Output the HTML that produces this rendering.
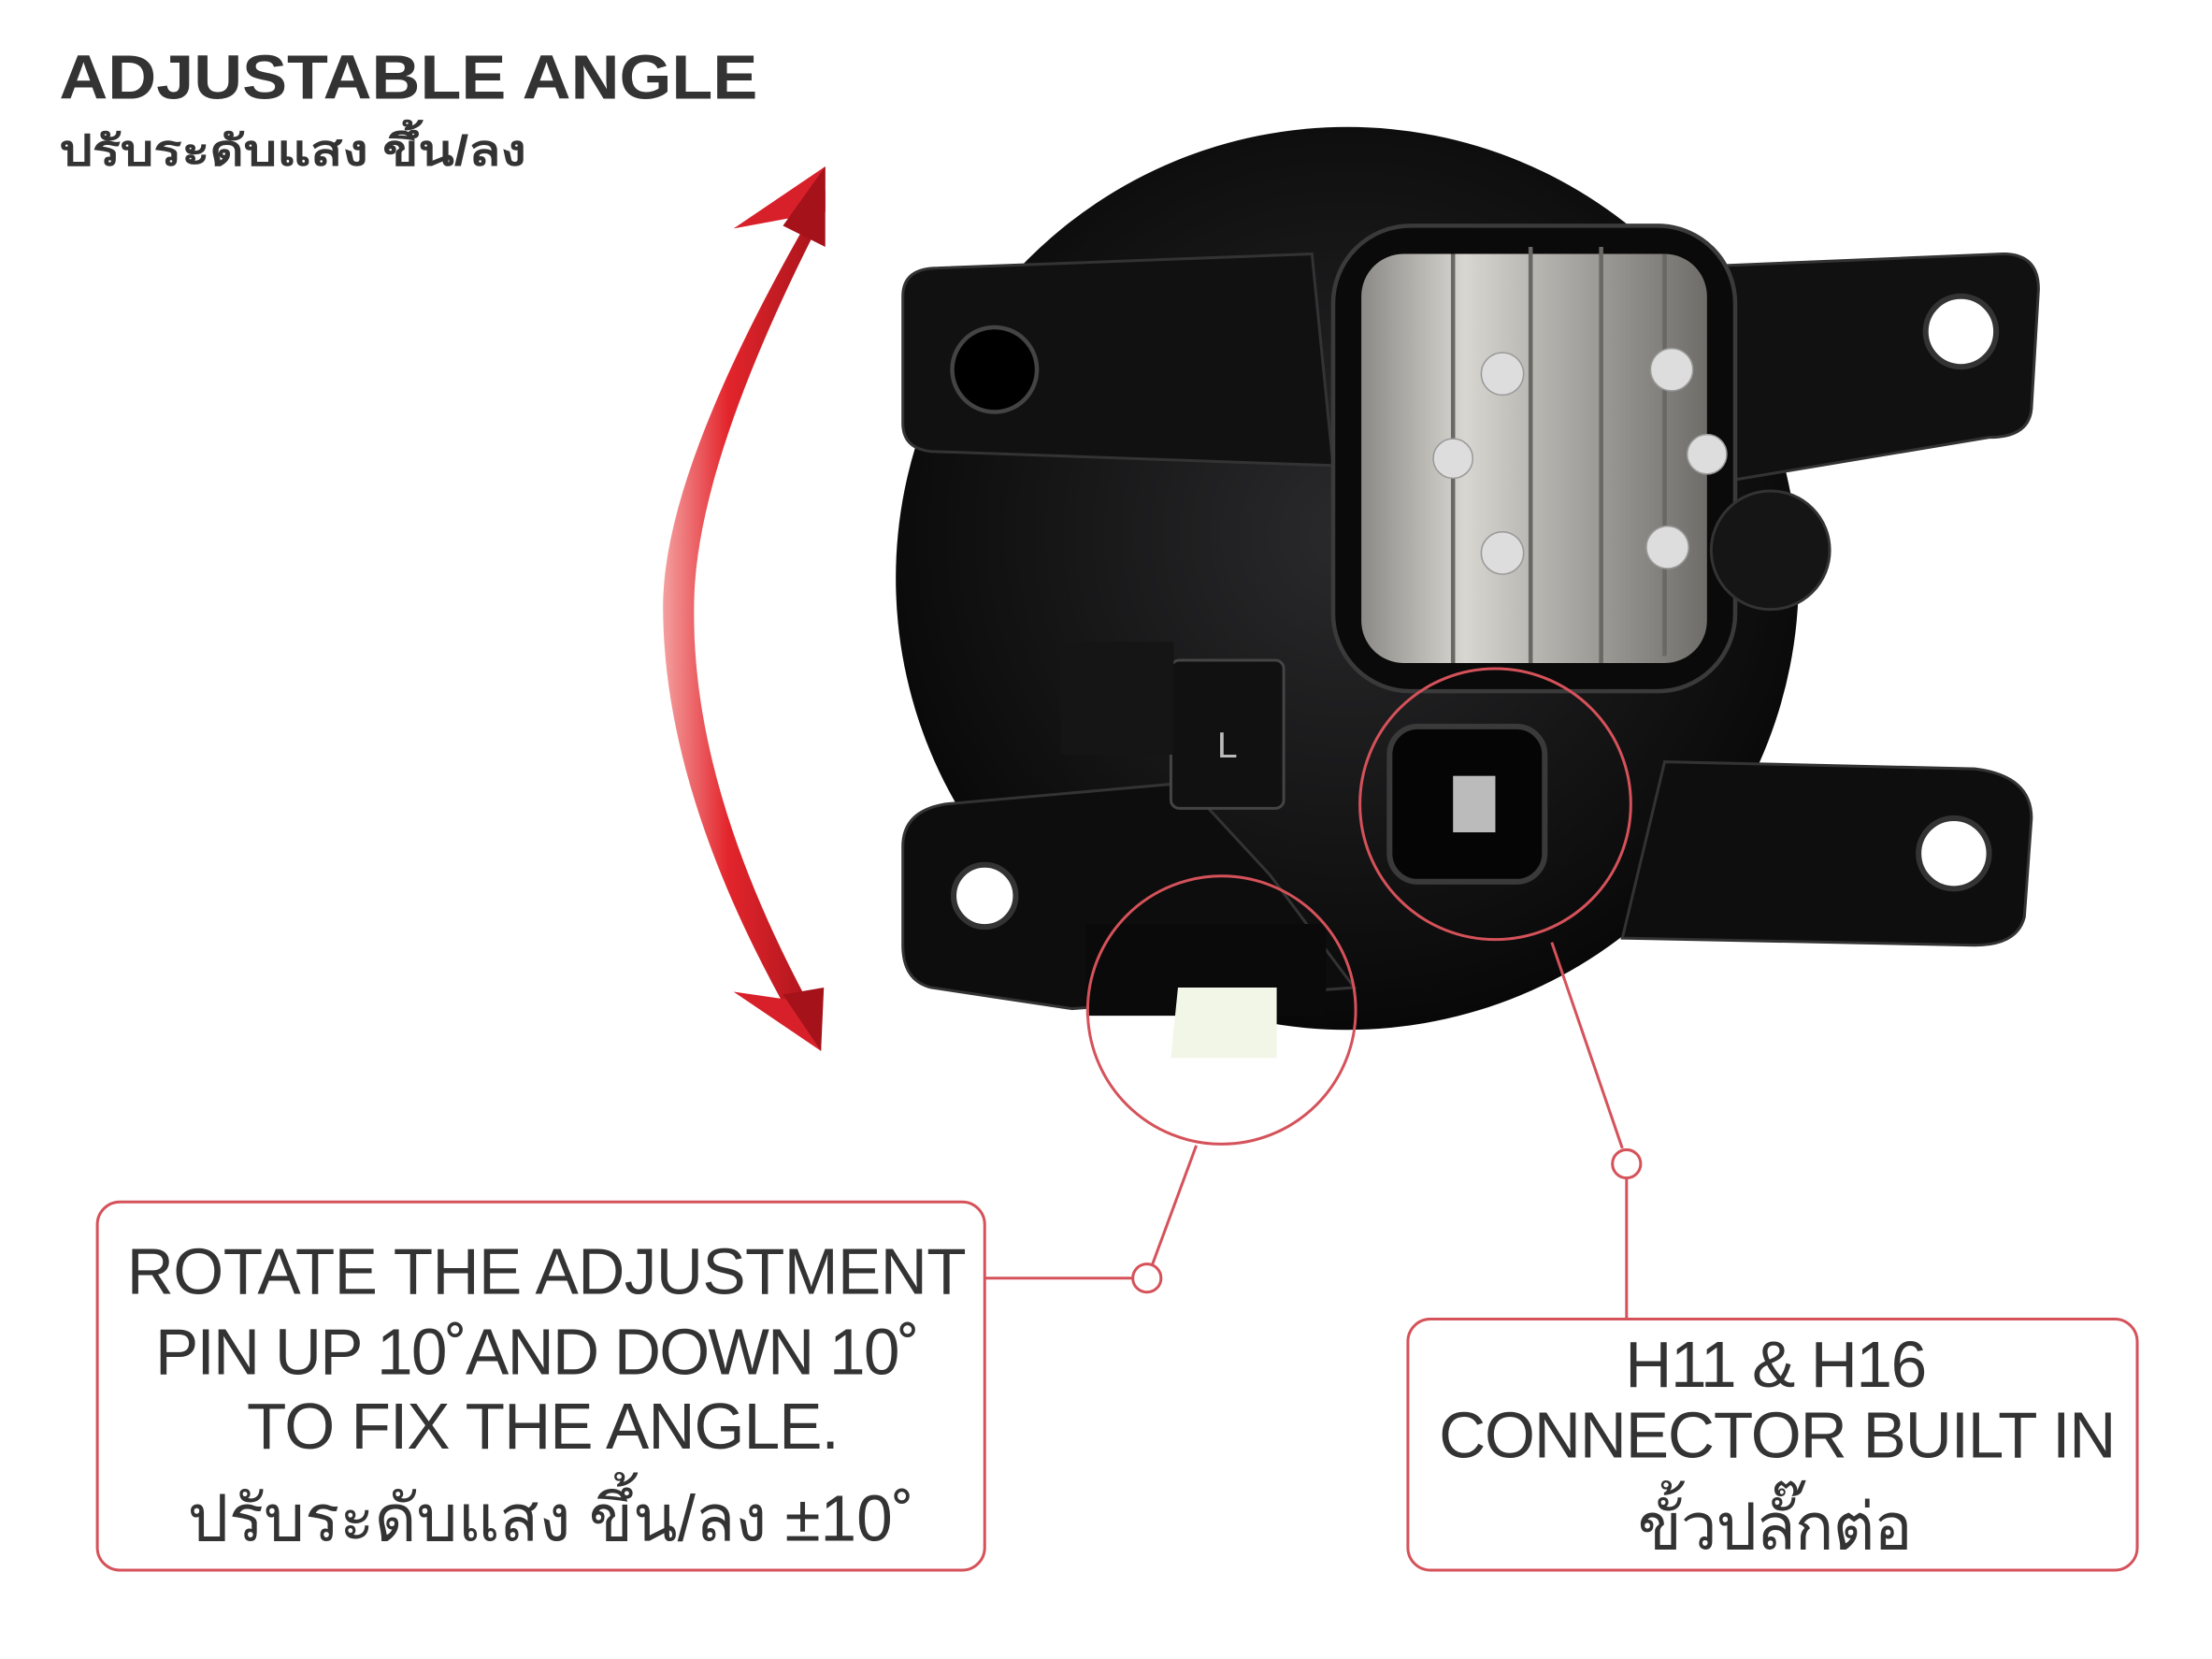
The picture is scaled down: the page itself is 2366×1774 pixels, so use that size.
<!DOCTYPE html>
<html><head><meta charset="utf-8"><style>
html,body{margin:0;padding:0;background:#fff;}
svg{display:block}
</style></head><body>
<svg width="2366" height="1774" viewBox="0 0 1568 1176" preserveAspectRatio="none" xmlns="http://www.w3.org/2000/svg">
<defs>
<linearGradient id="red" x1="0" y1="0" x2="1" y2="0">
<stop offset="0" stop-color="#f4a0a0"/><stop offset="0.4" stop-color="#e3252c"/><stop offset="1" stop-color="#a5121a"/>
</linearGradient>
<radialGradient id="body" cx="0.5" cy="0.45" r="0.6">
<stop offset="0" stop-color="#2a2a2c"/><stop offset="1" stop-color="#050505"/>
</radialGradient>
<linearGradient id="alu" x1="0" y1="0" x2="1" y2="0">
<stop offset="0" stop-color="#8c8a86"/><stop offset="0.3" stop-color="#d8d6d0"/><stop offset="0.6" stop-color="#a9a7a2"/><stop offset="1" stop-color="#6f6d69"/>
</linearGradient>
</defs>
<rect width="1568" height="1176" fill="#fff"/>
<text x="42" y="70" font-family="Liberation Sans, sans-serif" font-weight="bold" font-size="44" fill="#333" textLength="495" lengthAdjust="spacingAndGlyphs">ADJUSTABLE ANGLE</text>
<text x="42" y="117" font-family="Liberation Sans, 'Noto Sans CJK SC', sans-serif" font-weight="bold" font-size="30" fill="#333" textLength="331" lengthAdjust="spacingAndGlyphs">ปรับระดับแสง ขึ้น/ลง</text>

<!-- red arrow -->
<path d="M585,135 Q470,330 470,430 Q470,560 560,720 L578,720 Q490,560 492,430 Q492,330 585,150 Z" fill="url(#red)"/>
<polygon points="585,118 520,162 585,150" fill="#d8202a"/>
<polygon points="585,118 585,175 555,160" fill="#a5121a"/>
<polygon points="582,745 520,703 582,712" fill="#d8202a"/>
<polygon points="582,745 584,700 555,705" fill="#a5121a"/>

<!-- lamp -->
<circle cx="955" cy="410" r="320" fill="url(#body)"/>
<path d="M640,210 Q640,190 665,190 L930,180 L945,330 L660,320 Q640,318 640,300 Z" fill="#111" stroke="#333" stroke-width="2"/>
<circle cx="705" cy="262" r="30" fill="#000" stroke="#444" stroke-width="3"/>
<path d="M1180,190 L1420,180 Q1445,180 1445,205 L1440,290 Q1438,310 1410,310 L1230,340 Z" fill="#111" stroke="#333" stroke-width="2"/>
<circle cx="1390" cy="235" r="25" fill="#fff" stroke="#333" stroke-width="4"/>
<path d="M640,600 Q640,575 670,570 L840,555 L900,620 L960,700 L760,715 L660,700 Q640,695 640,670 Z" fill="#0d0d0d" stroke="#333" stroke-width="2"/>
<circle cx="698" cy="635" r="22" fill="#fff" stroke="#333" stroke-width="4"/>
<path d="M1180,540 L1400,545 Q1440,550 1440,580 L1435,650 Q1430,670 1400,670 L1150,665 Z" fill="#0e0e0e" stroke="#333" stroke-width="2"/>
<circle cx="1385" cy="605" r="25" fill="#fff" stroke="#333" stroke-width="4"/>
<rect x="945" y="160" width="285" height="330" rx="55" fill="#0a0a0a" stroke="#3a3a3a" stroke-width="3"/>
<rect x="965" y="180" width="245" height="290" rx="30" fill="url(#alu)"/>
<g stroke="#6a6864" stroke-width="3"><line x1="1030" y1="180" x2="1030" y2="470"/><line x1="1085" y1="175" x2="1085" y2="470"/><line x1="1135" y1="175" x2="1135" y2="470"/><line x1="1180" y1="180" x2="1180" y2="465"/></g>
<g fill="#ddd" stroke="#999"><circle cx="1065" cy="265" r="15"/><circle cx="1185" cy="262" r="15"/><circle cx="1030" cy="325" r="14"/><circle cx="1210" cy="322" r="14"/><circle cx="1065" cy="392" r="15"/><circle cx="1182" cy="388" r="15"/></g>
<circle cx="1255" cy="390" r="42" fill="#151515" stroke="#333" stroke-width="2"/>
<rect x="830" y="468" width="80" height="105" rx="6" fill="#111" stroke="#444" stroke-width="2"/>
<text x="870" y="537" font-family="Liberation Sans, sans-serif" font-size="26" fill="#bbb" text-anchor="middle">L</text>
<rect x="752" y="455" width="80" height="80" fill="#151515"/>
<rect x="985" y="515" width="110" height="110" rx="20" fill="#050505" stroke="#3a3a3a" stroke-width="4"/>
<rect x="1030" y="550" width="30" height="40" fill="#bbb"/>
<rect x="770" y="655" width="170" height="65" fill="#0a0a0a"/>
<path d="M835,700 L905,700 L905,750 L830,750 Z" fill="#f2f6e6"/>

<!-- magnifier circles & callouts -->
<g fill="none" stroke="#d5525a" stroke-width="2">
<circle cx="866" cy="716" r="95"/>
<circle cx="1060" cy="570" r="96"/>
<line x1="848" y1="812" x2="817" y2="896"/>
<circle cx="813" cy="906" r="10" fill="#fff"/>
<line x1="803" y1="906" x2="698" y2="906"/>
<line x1="1100" y1="668" x2="1150" y2="814"/>
<circle cx="1153" cy="825" r="10" fill="#fff"/>
<line x1="1153" y1="835" x2="1153" y2="935"/>
<rect x="69" y="852" width="629" height="261" rx="16"/>
<rect x="998" y="935" width="517" height="178" rx="16"/>
</g>

<g font-family="Liberation Sans, 'Noto Sans CJK SC', sans-serif" font-size="46" fill="#333" lengthAdjust="spacingAndGlyphs">
<text x="90" y="917" textLength="595">ROTATE THE ADJUSTMENT</text>
<text x="110" y="974" textLength="542">PIN UP 10˚AND DOWN 10˚</text>
<text x="175" y="1027" textLength="420">TO FIX THE ANGLE.</text>
<text x="133" y="1092" textLength="515">ปรับระดับแสง ขึ้น/ลง ±10˚</text>
<text x="1152" y="983" textLength="214">H11 &amp; H16</text>
<text x="1020" y="1033" textLength="480">CONNECTOR BUILT IN</text>
<text x="1160" y="1098" textLength="195">ขั้วปลั๊กต่อ</text>
</g>
</svg>
</body></html>
